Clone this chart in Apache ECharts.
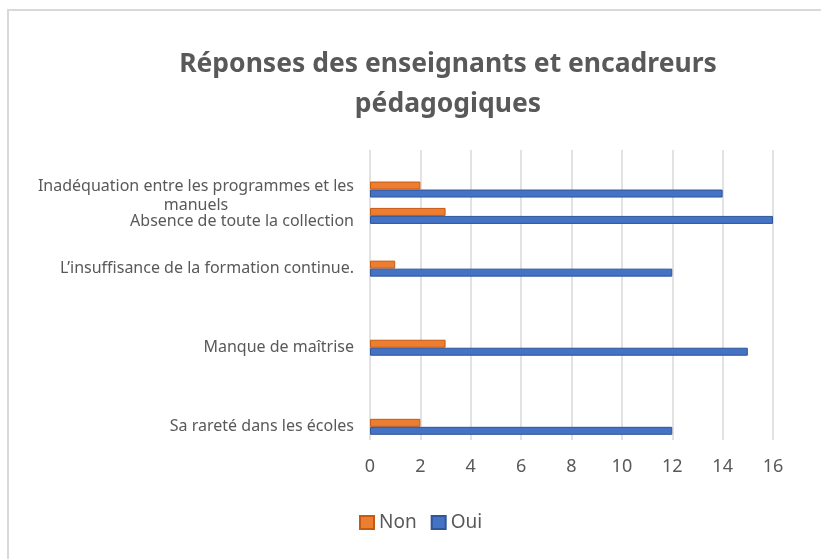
<!DOCTYPE html>
<html>
<head>
<meta charset="utf-8">
<script src="https://cdn.jsdelivr.net/npm/echarts@6/dist/echarts.min.js"></script>
<style>
  html, body { margin: 0; padding: 0; background: #fff; }
  #frame { position: absolute; left: 7px; top: 9px; width: 830px; height: 570px; border: 2px solid #d9d9d9; box-sizing: border-box; }
  #main { position: absolute; left: 0; top: 0; width: 821px; height: 559px; }
</style>
</head>
<body>
<div id="frame"></div>
<div id="main"></div>
<script>
// categories bottom to top; empty strings are the blank gaps of the original chart
var categories = [
    'Sa rareté dans les écoles', '', '',
    'Manque de maîtrise', '', '',
    'L’insuffisance de la formation continue.', '',
    'Absence de toute la collection',
    'Inadéquation entre les programmes et les manuels', ''
];
var nonValues = [2, null, null, 3, null, null, 1, null, 3, 2, null];
var ouiValues = [12, null, null, 15, null, null, 12, null, 16, 14, null];
var xTicks = [0, 2, 4, 6, 8, 10, 12, 14, 16];

var txt = '#595959';
var font = 'Noto Sans';

var chart = echarts.init(document.getElementById('main'));
chart.setOption({
    animation: false,
    title: {
        text: 'Réponses des enseignants et encadreurs\npédagogiques',
        left: 443,
        top: 39,
        textAlign: 'center',
        textStyle: { color: txt, fontFamily: font, fontSize: 26.5, fontWeight: 'bold', lineHeight: 40 }
    },
    legend: {
        data: ['Non', 'Oui'],
        bottom: 22,
        left: 354,
        icon: 'rect',
        itemWidth: 14,
        itemHeight: 13,
        itemGap: 14,
        textStyle: { color: txt, fontFamily: font, fontSize: 19 }
    },
    grid: { left: 370, right: 48, top: 150, bottom: 119 },
    xAxis: {
        type: 'value',
        min: xTicks[0],
        max: xTicks[xTicks.length - 1],
        interval: 2,
        axisLine: { show: false },
        axisTick: { show: false },
        axisLabel: { color: txt, fontFamily: font, fontSize: 18, margin: 18 },
        splitLine: { lineStyle: { color: '#d9d9d9', width: 1.5 } }
    },
    yAxis: {
        type: 'category',
        data: categories,
        axisLine: { show: false },
        axisTick: { show: false },
        axisLabel: {
            color: txt, fontFamily: font, fontSize: 16, margin: 16, interval: 0,
            formatter: function (v) {
                if (v.indexOf('Inadéquation') === 0) {
                    return '{s| }\n{c|Inadéquation entre les programmes et les}\n{c|manuels}';
                }
                if (v.indexOf('Absence') === 0) {
                    return '{s| }\n{c|' + v + '}';
                }
                return v;
            },
            rich: {
                s: { fontSize: 6, lineHeight: 12 },
                c: { align: 'center', color: txt, fontFamily: font, fontSize: 16, lineHeight: 19 }
            }
        }
    },
    series: [
        {
            name: 'Non', type: 'bar', data: nonValues,
            barWidth: 8, barGap: '0%',
            itemStyle: { color: '#ed7d31', borderColor: '#c55a11', borderWidth: 1 }
        },
        {
            name: 'Oui', type: 'bar', data: ouiValues,
            barWidth: 8, barGap: '0%',
            itemStyle: { color: '#4472c4', borderColor: '#2f5597', borderWidth: 1 }
        }
    ]
});
</script>
</body>
</html>
